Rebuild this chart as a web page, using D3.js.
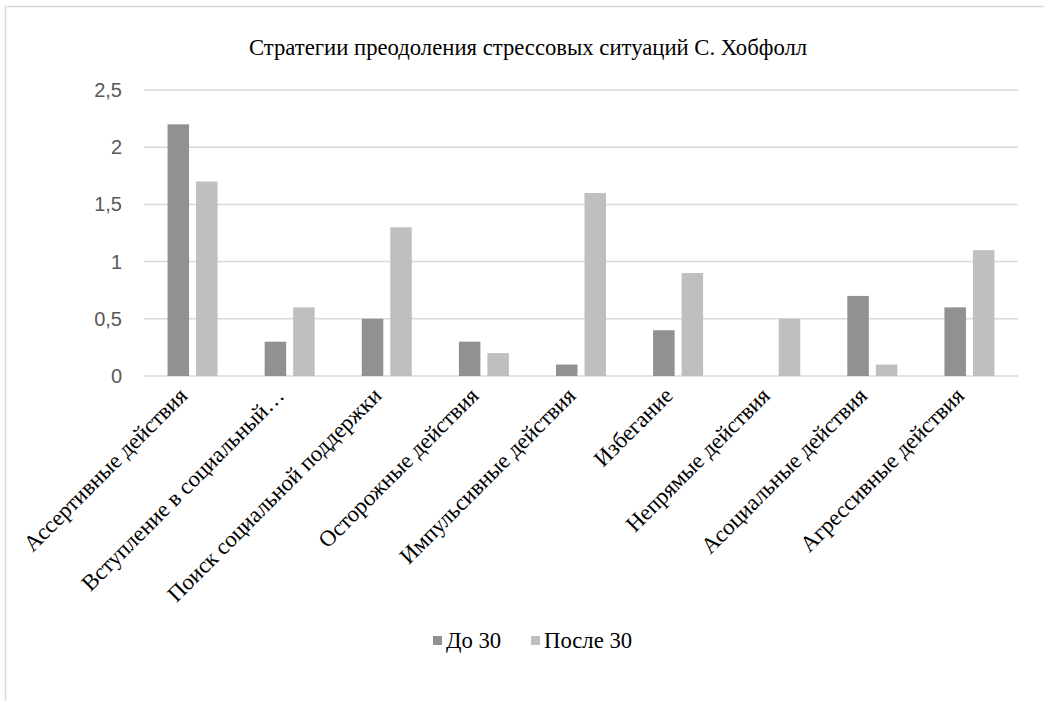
<!DOCTYPE html>
<html>

<head>
    <meta charset="utf-8">
    <script src="https://cdn.jsdelivr.net/npm/d3@7"></script>
</head>

<body style="margin:0">
    <script>

        let categories = ["Ассертивные действия", "Вступление в социальный…", "Поиск социальной поддержки",
            "Осторожные действия", "Импульсивные действия", "Избегание", "Непрямые действия",
            "Асоциальные действия", "Агрессивные действия"];
        let seriesNames = ["До 30", "После 30"];
        let before30 = [2.2, 0.3, 0.5, 0.3, 0.1, 0.4, 0, 0.7, 0.6];
        let after30 = [1.7, 0.6, 1.3, 0.2, 1.6, 0.9, 0.5, 0.1, 1.1];
        let yTicks = [0, 0.5, 1, 1.5, 2, 2.5];
        let colors = ["#919191", "#bfbfbf"];

        let w = 1044;
        let h = 701;
        let plotLeft = 144, plotRight = 1018, plotTop = 90, plotBottom = 376;
        let serifFont = "'Liberation Serif', Tinos, 'Times New Roman', serif";

        let svg = d3.select("body").append("svg")
            .attr("width", w)
            .attr("height", h)
            .attr("font-family", "Liberation Serif");

        // chart frame (right and bottom edges fall outside the picture)
        svg.append("rect")
            .attr("x", 5.5).attr("y", 6.5)
            .attr("width", 1200).attr("height", 800)
            .attr("fill", "none")
            .attr("stroke", "#d9d9d9")
            .attr("stroke-width", 1.5);

        let x = d3.scaleBand().domain(categories).range([plotLeft, plotRight]);
        let y = d3.scaleLinear().domain([0, 2.5]).range([plotBottom, plotTop]);

        // gridlines
        svg.selectAll(".grid")
            .data(yTicks)
            .join("line")
            .attr("x1", plotLeft).attr("x2", plotRight)
            .attr("y1", d => y(d)).attr("y2", d => y(d))
            .attr("stroke", "#d9d9d9")
            .attr("stroke-width", 1.5);

        svg.selectAll(".ytick")
            .data(yTicks)
            .join("text")
            .attr("x", 122)
            .attr("y", d => y(d) + 7)
            .attr("text-anchor", "end")
            .attr("font-family", "Liberation Sans")
            .style("font-family", "'Liberation Sans'")
            .style("font-size", "20px")
            .attr("fill", "#595959")
            .text(d => String(d).replace(".", ","));

        // bars
        let barW = 21.5, gap = 7;
        let series = [before30, after30];
        series.forEach(function (vals, s) {
            svg.append("g").selectAll("rect")
                .data(vals)
                .join("rect")
                .attr("x", (d, i) => x(categories[i]) + x.bandwidth() / 2 - barW - gap / 2 + s * (barW + gap))
                .attr("y", d => y(d))
                .attr("width", barW)
                .attr("height", d => y(0) - y(d))
                .attr("fill", colors[s]);
        });

        // category labels
        svg.selectAll(".xlab")
            .data(categories)
            .join("text")
            .attr("transform", d => "translate(" + (x(d) + x.bandwidth() / 2 - 4) + "," + 397 + ") rotate(-45)")
            .attr("text-anchor", "end")
            .attr("font-family", "Liberation Serif")
            .style("font-family", serifFont)
            .style("font-size", "22.7px")
            .attr("fill", "#000")
            .text(d => d);

        // title
        svg.append("text")
            .attr("x", 528).attr("y", 55)
            .attr("text-anchor", "middle")
            .attr("font-family", "Liberation Serif")
            .style("font-family", serifFont)
            .style("font-size", "22.7px")
            .attr("fill", "#000")
            .text("Стратегии преодоления стрессовых ситуаций С. Хобфолл");

        // legend
        let legendX = [433, 531];
        seriesNames.forEach(function (name, s) {
            svg.append("rect")
                .attr("x", legendX[s]).attr("y", 636)
                .attr("width", 9).attr("height", 9)
                .attr("fill", colors[s]);
            svg.append("text")
                .attr("x", legendX[s] + 13).attr("y", 648)
                .attr("font-family", "Liberation Serif")
                .style("font-family", serifFont)
                .style("font-size", "22.7px")
                .attr("fill", "#000")
                .text(name);
        });

    </script>
</body>

</html>
